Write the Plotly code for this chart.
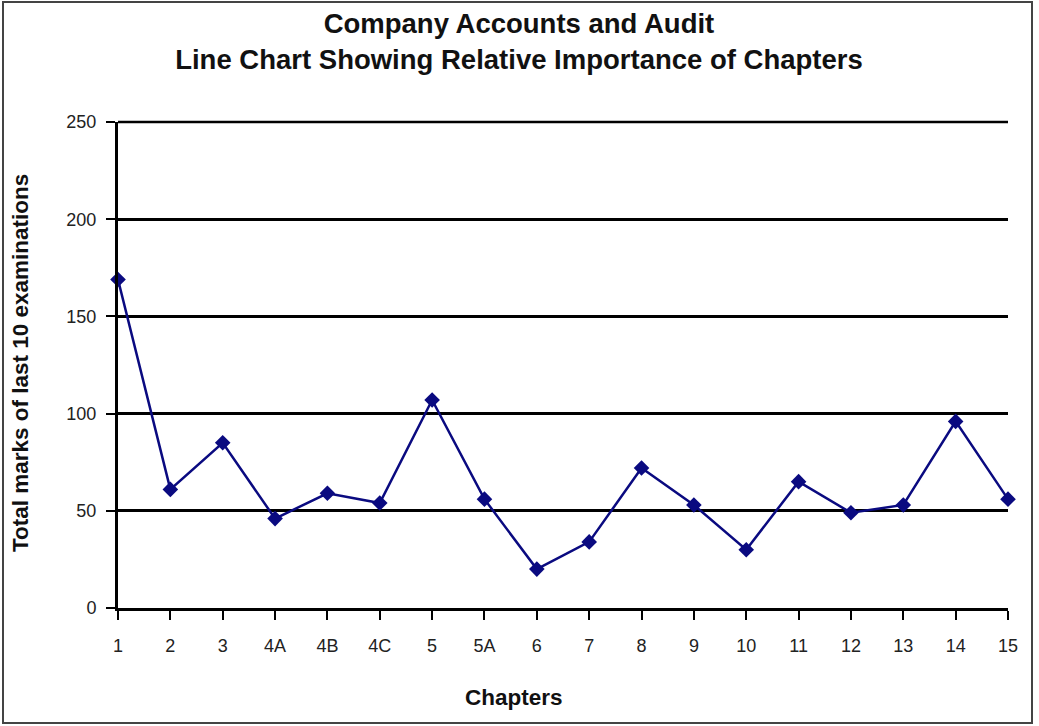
import plotly.graph_objects as go

# Chapter labels and total marks over the last 10 examinations
chapters = ["1", "2", "3", "4A", "4B", "4C", "5", "5A", "6", "7",
            "8", "9", "10", "11", "12", "13", "14", "15"]
marks = [169, 61, 85, 46, 59, 54, 107, 56, 20, 34,
         72, 53, 30, 65, 49, 53, 96, 56]

y_ticks = [0, 50, 100, 150, 200, 250]

label_font = "Liberation Sans, Arial, sans-serif"
bold_font = "Liberation Sans, Arial, sans-serif"

fig = go.Figure()
fig.add_trace(go.Scatter(
    x=chapters,
    y=marks,
    mode="lines+markers",
    line=dict(color="#0a0a80", width=2.5),
    marker=dict(symbol="diamond", size=12, color="#0a0a80"),
    showlegend=False,
    cliponaxis=False,
))

fig.update_layout(
    width=1039,
    height=726,
    margin=dict(l=118, r=31, t=122, b=118),
    paper_bgcolor="white",
    plot_bgcolor="white",
    title=dict(
        text="Company Accounts and Audit<br>Line Chart Showing Relative Importance of Chapters",
        x=0.4995, xanchor="center",
        y=1 - 33 / 726, yanchor="middle",
        font=dict(family=bold_font, size=27.5, color="#111111", weight="bold"),
    ),
    xaxis=dict(
        type="category",
        categoryorder="array",
        categoryarray=chapters,
        range=[0, len(chapters) - 1],
        showgrid=False,
        showline=True, linecolor="black", linewidth=3,
        ticks="outside", ticklen=9, tickwidth=2, tickcolor="black",
        ticklabelstandoff=10,
        tickfont=dict(family=label_font, size=18, color="#222222"),
        zeroline=False,
    ),
    yaxis=dict(
        range=[0, 250],
        tickvals=y_ticks,
        showgrid=True, gridcolor="black", gridwidth=2.5,
        showline=True, linecolor="black", linewidth=3,
        ticks="outside", ticklen=9, tickwidth=2, tickcolor="black",
        ticklabelstandoff=6,
        tickfont=dict(family=label_font, size=18, color="#222222"),
        zeroline=False,
    ),
    annotations=[
        dict(
            text="Total marks of last 10 examinations",
            xref="paper", yref="paper",
            x=-0.110, y=(608 - 363) / 486,
            textangle=-90, showarrow=False,
            xanchor="center", yanchor="middle",
            font=dict(family=bold_font, size=22.5, color="#111111", weight="bold"),
        ),
        dict(
            text="Chapters",
            xref="paper", yref="paper",
            x=(514 - 118) / 890, y=(608 - 697) / 486,
            showarrow=False,
            xanchor="center", yanchor="middle",
            font=dict(family=bold_font, size=22.5, color="#111111", weight="bold"),
        ),
    ],
    shapes=[
        # top gridline along the upper edge of the plot area
        dict(
            type="line", xref="paper", yref="paper",
            x0=0, x1=1, y0=1, y1=1,
            line=dict(color="black", width=2.5),
            layer="below",
        ),
        # outer frame around the whole chart
        dict(
            type="rect", xref="paper", yref="paper",
            x0=(3 - 118) / 890, x1=(1032 - 118) / 890,
            y0=(608 - 723) / 486, y1=(608 - 2) / 486,
            line=dict(color="#444444", width=2),
            fillcolor="rgba(0,0,0,0)",
            layer="below",
        ),
    ],
)

fig.write_html("out.html")
